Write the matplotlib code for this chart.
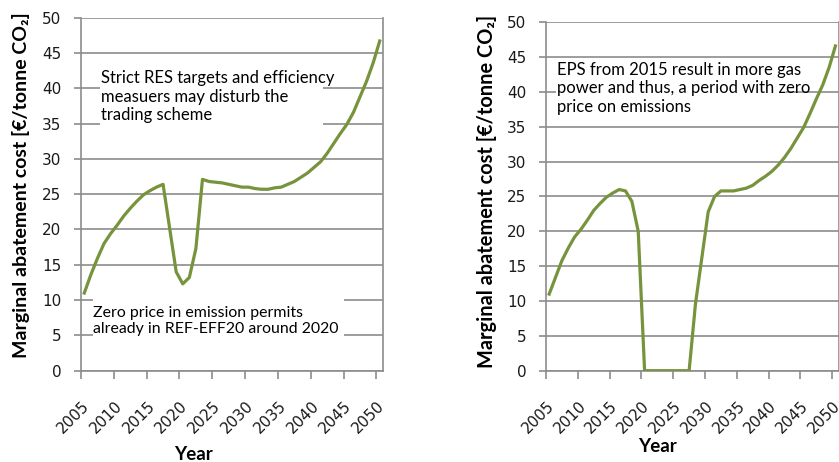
import matplotlib
matplotlib.use("Agg")
import matplotlib.pyplot as plt
from matplotlib.patches import Rectangle
from matplotlib.transforms import offset_copy

# ---- data ----
years_left = [2005, 2006, 2007, 2008, 2009, 2010, 2011, 2012, 2013, 2014, 2015, 2016, 2017,
              2019, 2020, 2021, 2022, 2023, 2024, 2025, 2026, 2027, 2028, 2029, 2030,
              2031, 2032, 2033, 2034, 2035, 2036, 2037, 2038, 2039, 2040, 2041, 2042,
              2043, 2044, 2045, 2046, 2047, 2048, 2049, 2050]
cost_left = [11.0, 13.6, 15.9, 18.0, 19.4, 20.6, 21.9, 23.0, 24.0, 24.9, 25.5, 26.0, 26.4,
             14.0, 12.3, 13.2, 17.3, 27.1, 26.8, 26.7, 26.6, 26.4, 26.2, 26.0, 26.0,
             25.8, 25.7, 25.7, 25.9, 26.0, 26.4, 26.8, 27.4, 28.0, 28.8, 29.6, 30.8,
             32.2, 33.6, 34.9, 36.6, 38.8, 41.0, 43.6, 46.7]

years_right = [2005, 2006, 2007, 2008, 2009, 2010, 2011, 2012, 2013, 2014, 2015, 2016, 2017,
               2018, 2019, 2020, 2021, 2022, 2023, 2024, 2025, 2026, 2027, 2028, 2030,
               2031, 2032, 2033, 2034, 2035, 2036, 2037, 2038, 2039, 2040, 2041, 2042,
               2043, 2044, 2045, 2046, 2047, 2048, 2049, 2050]
cost_right = [11.0, 13.4, 15.8, 17.6, 19.2, 20.3, 21.6, 23.0, 24.0, 24.9, 25.5, 26.0, 25.8,
              24.3, 20.0, 0.0, 0.0, 0.0, 0.0, 0.0, 0.0, 0.0, 0.0, 9.6, 22.8,
              25.0, 25.8, 25.8, 25.8, 26.0, 26.2, 26.6, 27.3, 27.9, 28.6, 29.5, 30.6,
              31.9, 33.4, 34.9, 36.9, 39.0, 41.0, 43.5, 46.6]

label_years = [2005, 2010, 2015, 2020, 2025, 2030, 2035, 2040, 2045, 2050]
y_ticks = [0, 5, 10, 15, 20, 25, 30, 35, 40, 45, 50]

note_left_top = "Strict RES targets and efficiency\nmeasuers may disturb the\ntrading scheme"
note_left_bottom = "Zero price in emission permits\nalready in REF-EFF20 around 2020"
note_right = "EPS from 2015 result in more gas\npower and thus, a period with zero\nprice on emissions"
ylabel = "Marginal abatement cost [€/tonne CO₂]"
xlabel = "Year"

# ---- style ----
LINE = "#77933C"
GRID = "#8C8C8C"
TXT_FONT = ["Lato", "DejaVu Sans"]
NUM_FONT = ["DejaVu Sans"]

fig = plt.figure(figsize=(8.39, 4.62), dpi=100)
W, H = 839, 462

def make_axes(left_px, top_px, right_px, bottom_px):
    return fig.add_axes([left_px / W, 1 - bottom_px / H,
                         (right_px - left_px) / W, (bottom_px - top_px) / H])

def style(ax, years, vals):
    ax.plot(years, vals, color=LINE, lw=2.3, solid_joinstyle="round", zorder=3)
    ax.set_xlim(2004.5, 2050.5)
    ax.set_ylim(0, 50)
    ax.set_yticks(y_ticks)
    ax.set_yticklabels([str(v) for v in y_ticks], fontsize=11, family=NUM_FONT, color="#1a1a1a")
    ax.grid(axis="y", color=GRID, lw=1.2, zorder=0)
    ax.set_axisbelow(True)
    ax.set_xticks([y - 0.5 for y in label_years])
    ax.set_xticklabels([])
    ax.tick_params(axis="x", which="major", length=5.5, color=GRID, width=1.2)
    ax.tick_params(axis="y", length=5, color=GRID, width=1.2, pad=9)
    trans = offset_copy(ax.get_xaxis_transform(), fig=fig, x=1.8, y=-23.5, units="points")
    for yr in label_years:
        ax.text(yr, 0, str(yr), transform=trans, rotation=45, ha="right", va="center",
                rotation_mode="anchor", fontsize=11, family=NUM_FONT, color="#1a1a1a",
                clip_on=False)
    for s in ax.spines.values():
        s.set_color(GRID)
        s.set_linewidth(1.2)
    ax.spines["top"].set_visible(False)

def note(ax, x0, x1, y0, y1, tx, ty, text, size):
    ax.add_patch(Rectangle((x0, y0), x1 - x0, y1 - y0, facecolor="white",
                           edgecolor="none", zorder=2))
    ax.text(tx, ty, text, fontsize=size, family=TXT_FONT, ha="left", va="center",
            linespacing=1.18, zorder=4)

# left chart
axL = make_axes(81, 17.7, 383, 370.7)
style(axL, years_left, cost_left)
fig.text(20.7 / W, 1 - 185 / H, ylabel, rotation=90, ha="center", va="center",
         fontsize=14, fontweight="bold", family=TXT_FONT)
fig.text(193 / W, 1 - 460.5 / H, xlabel, ha="center", va="baseline",
         fontsize=13.5, fontweight="bold", family=TXT_FONT)
note(axL, 2007.4, 2041.4, 34.4, 44.0, 2007.5, 38.8, note_left_top, 12)
note(axL, 2006.3, 2044.6, 3.6, 10.7, 2006.4, 7.0, note_left_bottom, 11.4)

# right chart
axR = make_axes(546, 22.3, 838.6, 370.7)
style(axR, years_right, cost_right)
fig.text(486.7 / W, 1 - 191 / H, ylabel, rotation=90, ha="center", va="center",
         fontsize=14.4, fontweight="bold", family=TXT_FONT)
fig.text(657.5 / W, 1 - 452.5 / H, xlabel, ha="center", va="baseline",
         fontsize=13.5, fontweight="bold", family=TXT_FONT)
note(axR, 2006.1, 2042.3, 36.0, 44.8, 2006.2, 40.5, note_right, 12)

fig.savefig("out.png", dpi=100, facecolor="white")
